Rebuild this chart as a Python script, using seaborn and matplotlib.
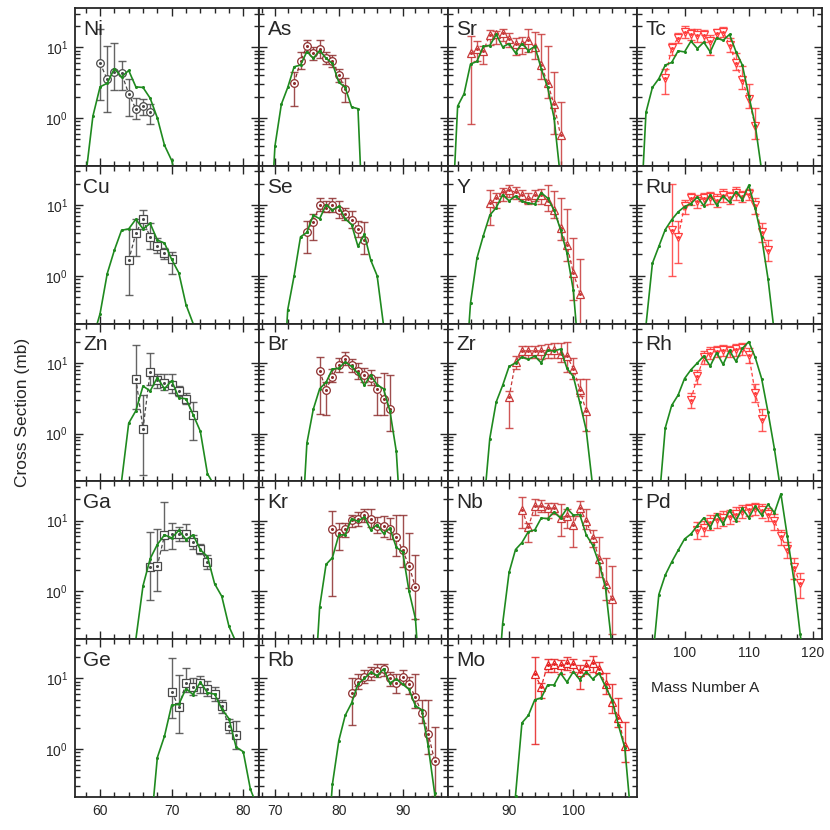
import numpy as np
import pandas as pd
import matplotlib
matplotlib.use("Agg")
import matplotlib.pyplot as plt
import seaborn as sns
from matplotlib.ticker import MultipleLocator, LogLocator, NullFormatter

# ---- data: model curve (green) and measured cross sections (mb) ----
# each *_model list starts at mass number *_m0, each *_exp list at *_e0
ni_m0 = 58
ni_model = [0.15, 1.06, 2.75, 3.1, 5.0, 3.8, 4.7, 2.75, 2.7, 1.9, 1.0, 0.41, 0.25, 0.1]
ni_e0 = 60
ni_exp = [6.0, 3.5, 4.5, 4.3, 2.2, 1.34, 1.46, 1.2]
ni_hi = [18, 10.6, 11.5, 6.3, 3.6, 1.9, 1.86, 1.55]
ni_lo = [1.8, 1.2, 2.5, 2.5, 1.05, 0.95, 1.1, 0.83]

cu_m0 = 59
cu_model = [0.13, 0.29, 1.07, 2.3, 4.4, 4.6, 6.3, 4.6, 5.5, 3.2, 2.9, 1.7, 1.1, 0.39, 0.21, 0.12]
cu_e0 = 64
cu_exp = [1.65, 4.0, 6.3, 3.5, 2.66, 2.1, 1.7]
cu_hi = [4.6, 6.3, 8.5, 5.5, 3.4, 2.5, 2.2]
cu_lo = [0.54, 1.9, 4.6, 2.4, 2.1, 1.7, 1.05]

zn_m0 = 62
zn_model = [0.1, 0.21, 1.4, 2.1, 4.7, 4.0, 6.2, 4.3, 5.6, 3.2, 3.1, 1.85, 1.08, 0.27, 0.18, 0.1]
zn_e0 = 65
zn_exp = [6.0, 1.17, 7.5, 5.8, 5.2, 4.9, 4.0, 3.1, 1.8]
zn_hi = [18, 3.5, 13.8, 6.9, 6.9, 6.9, 4.7, 3.8, 2.8]
zn_lo = [2.2, 0.26, 4.9, 4.4, 4.2, 3.7, 3.4, 2.6, 0.8]

ga_m0 = 64
ga_model = [0.12, 0.21, 1.2, 2.9, 4.6, 6.3, 5.7, 7.3, 5.4, 6.3, 3.9, 3.1, 1.28, 0.85, 0.32, 0.19, 0.1]
ga_e0 = 67
ga_exp = [2.2, 2.3, 6.2, 6.4, 6.4, 6.5, 5.0, 4.0, 2.6]
ga_hi = [6.9, 7.6, 18.5, 9.3, 8.2, 9.1, 6.3, 4.7, 3.3]
ga_lo = [0.76, 1.02, 3.8, 4.0, 5.1, 5.1, 4.0, 3.4, 2.06]

ge_m0 = 67
ge_model = [0.06, 0.76, 1.53, 4.2, 4.3, 7.2, 5.9, 8.9, 6.3, 6.0, 3.7, 2.7, 1.07, 0.92, 0.27, 0.15]
ge_e0 = 70
ge_exp = [6.5, 3.95, 8.6, 7.7, 8.5, 7.1, 6.0, 4.1, 2.1, 1.6]
ge_hi = [19.5, 11.1, 14.3, 10, 10.8, 9.3, 7.7, 4.9, 2.7, 2.5]
ge_lo = [2.77, 1.7, 6.5, 5.9, 6.2, 5.7, 4.8, 3.3, 1.67, 1.0]

as_m0 = 69
as_model = [0.01, 0.4, 1.56, 2.7, 5.3, 5.6, 8.7, 7.0, 9.0, 7.0, 5.9, 3.2, 2.7, 1.43, 1.35, 0.01]
as_e0 = 73
as_exp = [3.1, 6.3, 10.3, 8.3, 9.5, 7.0, 6.5, 4.0, 2.6]
as_hi = [4.5, 8.5, 12.6, 10, 12.6, 8.5, 7.8, 4.9, 3.7]
as_lo = [1.47, 4.9, 8.5, 6.6, 7.0, 5.8, 5.3, 3.2, 1.7]

se_m0 = 71
se_model = [0.01, 0.33, 1.0, 3.55, 4.1, 7.2, 6.4, 10.1, 8.5, 9.6, 6.4, 5.3, 2.6, 3.85, 1.66, 1.0, 0.2, 0.02]
se_e0 = 75
se_exp = [4.2, 5.7, 10.0, 9.0, 10.0, 8.4, 7.4, 6.1, 4.6, 3.2]
se_hi = [5.9, 7.5, 12.7, 11.3, 12.7, 11.3, 9.2, 8.2, 5.9, 5.7]
se_lo = [2.1, 3.2, 8.3, 8.0, 8.1, 6.6, 6.2, 4.7, 3.5, 2.03]

br_m0 = 74
br_model = [0.02, 0.73, 2.2, 4.3, 5.3, 8.2, 8.4, 10.3, 8.9, 7.1, 4.8, 6.7, 4.9, 4.3, 2.1, 0.56, 0.02]
br_e0 = 77
br_exp = [7.7, 4.2, 6.4, 9.4, 11.2, 9.2, 7.7, 6.7, 6.2, 4.3, 3.1, 2.25]
br_hi = [12.3, 5.3, 8.1, 11.8, 14.3, 11.4, 10, 8.4, 8.0, 6.4, 7.1, 6.7]
br_lo = [1.9, 1.8, 5.3, 7.5, 9.2, 7.5, 6.0, 5.4, 4.9, 1.8, 1.85, 1.1]

kr_m0 = 76
kr_model = [0.02, 0.6, 2.4, 3.0, 6.3, 6.3, 10.7, 9.8, 11.3, 7.4, 8.8, 6.6, 7.8, 4.2, 3.6, 1.0, 0.41, 0.02]
kr_e0 = 79
kr_exp = [7.6, 6.8, 7.6, 10.1, 10.7, 11.9, 10.7, 8.5, 8.5, 7.6, 5.9, 3.8, 2.3, 1.14]
kr_hi = [13.7, 9.2, 9.4, 12.2, 13.2, 14.5, 14.8, 11.3, 11.8, 11.0, 11.9, 11.9, 6.8, 3.3]
kr_lo = [0.87, 3.9, 5.9, 8.1, 8.3, 9.6, 8.1, 6.8, 5.9, 5.5, 3.2, 2.2, 1.1, 0.4]

rb_m0 = 78
rb_model = [0.02, 0.32, 1.32, 3.0, 4.5, 8.3, 10, 12.2, 11, 13.6, 8.6, 9.8, 8.3, 7.0, 4.1, 3.6, 1.1, 0.24, 0.02]
rb_e0 = 82
rb_exp = [6.3, 8.9, 10.6, 11.9, 12.9, 13.6, 10, 8.6, 10.6, 8.3, 5.4, 3.2, 1.65, 0.69]
rb_hi = [10, 11.5, 13.2, 14.4, 15.8, 16.1, 12.2, 11.5, 13.3, 10.6, 11.5, 5.0, 5.0, 2.06]
rb_lo = [2.2, 7.0, 8.6, 9.6, 10.6, 10.9, 7.8, 6.3, 8.3, 6.1, 3.8, 2.35, 0.85, 0.22]

sr_m0 = 81
sr_model = [0.02, 1.47, 2.2, 5.8, 6.3, 10.3, 10.6, 15.2, 10.1, 11.3, 8.3, 11.3, 9.0, 10.3, 5.0, 2.7, 1.0, 0.14]
sr_e0 = 84
sr_exp = [8.3, 9.6, 8.9, 14.9, 15.6, 16.1, 12.9, 11.3, 11.1, 12.6, 10, 5.6, 3.1, 1.56, 0.57]
sr_hi = [14.5, 12.2, 10.6, 17.4, 17, 18.4, 16.1, 13.7, 14.1, 18.4, 16.5, 15.3, 10.3, 4.5, 1.7]
sr_lo = [0.83, 6.3, 5.8, 10.9, 11.1, 12.2, 10, 7.8, 8, 8.7, 6.8, 3.6, 1.9, 0.6, 0.2]

y_m0 = 83
y_model = [0.02, 0.41, 1.77, 3.7, 7.2, 9.2, 14.0, 11.5, 13.4, 11.3, 10.7, 10.3, 15.0, 12.5, 8.5, 4.5, 2.1, 0.62, 0.05]
y_e0 = 87
y_exp = [10.7, 12.7, 15.3, 16.2, 15.3, 13.7, 12.2, 13.7, 13.7, 11.6, 8.5, 4.7, 2.7, 1.1, 0.56]
y_hi = [16.2, 14.8, 17.2, 19.1, 18.1, 16.2, 14.8, 16.2, 16.7, 19.1, 15.6, 12.5, 8.9, 3.4, 1.7]
y_lo = [5.3, 9.2, 11.6, 13.2, 12.2, 11.6, 10.3, 11.3, 10.3, 8.3, 6.6, 3.2, 1.6, 0.45, 0.2]

zr_m0 = 86
zr_model = [0.08, 0.85, 2.8, 4.8, 8.9, 10, 12.1, 11.2, 12.5, 10, 15.1, 14.8, 15.7, 8.4, 6.4, 2.75, 1.12, 0.18, 0.02]
zr_e0 = 90
zr_exp = [3.25, 10.3, 14.8, 14.8, 14.8, 14.8, 15.1, 15.1, 13.5, 12.5, 8.3, 4.2, 2.07]
zr_hi = [4.06, 12.5, 17.1, 17.5, 17.5, 18.1, 18.6, 19, 19.4, 20, 11.8, 6.0, 6.0]
zr_lo = [1.18, 8.3, 12.1, 11.8, 11.6, 11.2, 11.8, 11.6, 10.3, 7.5, 6.0, 3.4, 1.1]

nb_m0 = 88
nb_model = [0.02, 0.35, 1.85, 3.9, 4.9, 7.0, 7.4, 10.9, 10.7, 13.2, 10.9, 14.9, 12.0, 12.2, 6.3, 4.5, 2.5, 1.12, 0.17]
nb_e0 = 92
nb_exp = [14.4, 8.1, 16.1, 16.1, 15.2, 14.9, 10.9, 11.8, 8.8, 14.9, 10, 5.7, 2.9, 1.25, 0.78]
nb_hi = [21.3, 9.3, 20.2, 19.7, 18, 18, 17.1, 14.5, 11.6, 19, 14.7, 7.4, 5.9, 3.0, 2.3]
nb_lo = [7.8, 5.0, 12.2, 13.2, 10.9, 12.6, 6.1, 7.8, 4.2, 11.6, 7.6, 4.2, 1.6, 0.76, 0.25]

mo_m0 = 90
mo_model = [0.02, 0.22, 2.35, 3.0, 5.0, 5.3, 8.1, 8.1, 11.9, 8.9, 12.5, 9.6, 12.5, 9.8, 11.9, 7.7, 5.0, 2.2, 1.05, 0.1]
mo_e0 = 94
mo_exp = [11.5, 7.6, 15.6, 16.1, 15.3, 16.5, 15.8, 12.5, 14.8, 16.5, 13.6, 8.3, 4.7, 2.8, 1.1]
mo_hi = [20.1, 8.7, 19.1, 19.1, 18, 20.1, 18.6, 15.3, 18, 20.5, 17, 12, 8.3, 5.3, 2.4]
mo_lo = [1.18, 5.3, 12.5, 12.2, 11.5, 13.2, 12.5, 7.0, 11.5, 12.2, 11.5, 6.0, 3.3, 2.06, 0.66]

tc_m0 = 93
tc_model = [0.02, 1.2, 2.7, 3.6, 5.6, 6.1, 8.9, 8.6, 12.2, 9.6, 11.8, 8.6, 13.6, 12.5, 15.2, 8.7, 5.6, 2.06, 0.8, 0.18]
tc_e0 = 97
tc_exp = [3.7, 9.8, 13.6, 16.5, 15.2, 14.7, 14.7, 12.2, 16.1, 16.7, 10.9, 5.9, 3.4, 1.84, 0.76]
tc_hi = [4.9, 11.6, 16.1, 20, 18, 18, 17.6, 14.9, 18.4, 19.5, 13.6, 8.3, 5.4, 3.0, 1.4]
tc_lo = [2.2, 7.8, 11.6, 13.6, 12.5, 11.8, 11.8, 7.8, 13.6, 13.9, 8.7, 4.7, 2.6, 1.4, 0.51]

ru_m0 = 94
ru_model = [0.2, 1.5, 2.6, 4.5, 6.2, 8.0, 9.5, 10.5, 13.0, 9.8, 14.0, 10.0, 13.5, 11.0, 15.5, 12.0, 19.0, 9.0, 3.5, 0.9, 0.15]
ru_e0 = 98
ru_exp = [4.5, 3.5, 9.8, 12.5, 11.5, 12.5, 13.0, 12.0, 14.0, 13.0, 15.0, 13.5, 14.5, 10.0, 4.2, 2.3]
ru_hi = [20.0, 6.0, 12.0, 15.0, 14.0, 15.0, 15.5, 14.5, 17.0, 15.5, 18.0, 16.0, 17.0, 12.5, 5.5, 3.2]
ru_lo = [1.0, 1.5, 7.5, 10.0, 9.0, 10.0, 10.5, 9.5, 11.0, 10.5, 12.0, 11.0, 12.0, 7.5, 3.0, 1.6]

rh_m0 = 96
rh_model = [0.1, 1.2, 2.5, 3.5, 6.0, 8.0, 10.0, 12.5, 9.0, 14.0, 9.5, 15.0, 10.5, 16.0, 20.0, 12.0, 6.0, 2.0, 0.6, 0.15]
rh_e0 = 101
rh_exp = [3.0, 6.5, 12.0, 14.0, 14.5, 15.0, 14.5, 15.5, 16.0, 13.0, 3.8, 1.6]
rh_hi = [3.8, 8.0, 14.5, 17.0, 17.5, 18.0, 17.5, 18.5, 19.0, 16.0, 5.0, 2.2]
rh_lo = [2.3, 5.0, 9.5, 11.5, 12.0, 12.5, 12.0, 12.5, 13.0, 10.0, 2.8, 1.1]

pd_m0 = 95
pd_model = [0.1, 0.9, 1.7, 2.6, 3.8, 5.5, 6.5, 8.5, 11.0, 8.0, 12.5, 9.0, 14.0, 10.0, 15.0, 11.0, 16.0, 12.0, 17.0, 13.0, 24.0, 6.0, 1.5, 0.25, 0.05]
pd_e0 = 102
pd_exp = [7.5, 8.0, 9.5, 10.5, 11.0, 11.5, 12.5, 13.5, 14.5, 15.0, 14.0, 12.5, 10.0, 6.0, 4.0, 2.2, 1.3]
pd_hi = [9.5, 10.0, 12.0, 13.0, 13.5, 14.0, 15.5, 16.5, 17.5, 18.0, 17.0, 15.0, 12.5, 7.5, 5.0, 3.0, 1.8]
pd_lo = [5.5, 6.0, 7.5, 8.0, 8.5, 9.0, 10.0, 11.0, 11.5, 12.0, 11.0, 10.0, 7.5, 4.5, 3.0, 1.5, 0.8]

GREEN = '#1f8a1f'
GREY = '#4a4a4a'
BROWN = '#8e2f2f'
RED3 = '#c83a3a'
RED_MO = '#e62222'
RED4 = '#ff3c3c'

panels = [
    ("Ni", 0, 0, ni_m0, ni_model, ni_e0, ni_exp, ni_lo, ni_hi, 'o', GREY),
    ("Cu", 1, 0, cu_m0, cu_model, cu_e0, cu_exp, cu_lo, cu_hi, 's', GREY),
    ("Zn", 2, 0, zn_m0, zn_model, zn_e0, zn_exp, zn_lo, zn_hi, 's', GREY),
    ("Ga", 3, 0, ga_m0, ga_model, ga_e0, ga_exp, ga_lo, ga_hi, 's', GREY),
    ("Ge", 4, 0, ge_m0, ge_model, ge_e0, ge_exp, ge_lo, ge_hi, 's', GREY),
    ("As", 0, 1, as_m0, as_model, as_e0, as_exp, as_lo, as_hi, 'o', BROWN),
    ("Se", 1, 1, se_m0, se_model, se_e0, se_exp, se_lo, se_hi, 'o', BROWN),
    ("Br", 2, 1, br_m0, br_model, br_e0, br_exp, br_lo, br_hi, 'o', BROWN),
    ("Kr", 3, 1, kr_m0, kr_model, kr_e0, kr_exp, kr_lo, kr_hi, 'o', BROWN),
    ("Rb", 4, 1, rb_m0, rb_model, rb_e0, rb_exp, rb_lo, rb_hi, 'o', BROWN),
    ("Sr", 0, 2, sr_m0, sr_model, sr_e0, sr_exp, sr_lo, sr_hi, '^', RED3),
    ("Y", 1, 2, y_m0, y_model, y_e0, y_exp, y_lo, y_hi, '^', RED3),
    ("Zr", 2, 2, zr_m0, zr_model, zr_e0, zr_exp, zr_lo, zr_hi, '^', RED3),
    ("Nb", 3, 2, nb_m0, nb_model, nb_e0, nb_exp, nb_lo, nb_hi, '^', RED3),
    ("Mo", 4, 2, mo_m0, mo_model, mo_e0, mo_exp, mo_lo, mo_hi, '^', RED_MO),
    ("Tc", 0, 3, tc_m0, tc_model, tc_e0, tc_exp, tc_lo, tc_hi, 'v', RED4),
    ("Ru", 1, 3, ru_m0, ru_model, ru_e0, ru_exp, ru_lo, ru_hi, 'v', RED4),
    ("Rh", 2, 3, rh_m0, rh_model, rh_e0, rh_exp, rh_lo, rh_hi, 'v', RED4),
    ("Pd", 3, 3, pd_m0, pd_model, pd_e0, pd_exp, pd_lo, pd_hi, 'v', RED4),
]

col_xlim = [(56.5, 82.2), (67.5, 97.1), (80.5, 109.9), (92.6, 121.4)]
col_minor = [2, 2, 2, 2.5]

sns.set_style("ticks")
plt.rcParams['font.family'] = ['Liberation Sans', 'DejaVu Sans']
plt.rcParams['mathtext.fontset'] = 'custom'
plt.rcParams['mathtext.rm'] = 'Liberation Sans'
plt.rcParams['mathtext.it'] = 'Liberation Sans:italic'

fig = plt.figure(figsize=(8.3, 8.3), dpi=100)
gs = fig.add_gridspec(5, 4, left=75/830, right=822/830, top=1-8/830, bottom=1-797/830,
                      wspace=0, hspace=0, width_ratios=[184, 189, 189, 185])
axes = [[fig.add_subplot(gs[r, c]) for c in range(4)] for r in range(5)]

for name, r, c, m0, model, e0, exp, lo, hi, mk, colr in panels:
    ax = axes[r][c]
    dm = pd.DataFrame({'A': m0 + np.arange(len(model)), 'sigma': model})
    de = pd.DataFrame({'A': e0 + np.arange(len(exp)), 'sigma': exp, 'lo': lo, 'hi': hi})

    # error bars, then the dashed line through the measured points
    ax.errorbar(de['A'], de['sigma'], yerr=[de['sigma'] - de['lo'], de['hi'] - de['sigma']],
                fmt='none', ecolor=colr, elinewidth=1.0, capsize=3, capthick=1.0, alpha=0.85, zorder=2)
    sns.lineplot(data=de, x='A', y='sigma', ax=ax, color=colr, lw=0.9, linestyle=(0, (3, 2)),
                 marker=mk, markersize=5.5, markerfacecolor='white', markeredgecolor=colr,
                 markeredgewidth=0.9, zorder=3)
    ax.plot(de['A'], de['sigma'], 'o', color=colr, ms=1.2, zorder=3.5)
    # model curve on top
    sns.lineplot(data=dm, x='A', y='sigma', ax=ax, color=GREEN, lw=1.2, marker='o',
                 markersize=2.2, markeredgewidth=0, zorder=4)
    ax.text(0.045, 0.925, name, transform=ax.transAxes, fontsize=15, va='top', ha='left')

for r in range(5):
    for c in range(4):
        ax = axes[r][c]
        if r == 4 and c == 3:
            ax.axis('off')
            continue
        ax.set_yscale('log')
        ax.set_ylim(0.21, 36)
        ax.set_xlim(col_xlim[c])
        ax.xaxis.set_major_locator(MultipleLocator(10))
        ax.xaxis.set_minor_locator(MultipleLocator(col_minor[c]))
        ax.yaxis.set_major_locator(LogLocator(base=10))
        ax.yaxis.set_minor_locator(LogLocator(base=10, subs=np.arange(2, 10)))
        ax.yaxis.set_minor_formatter(NullFormatter())
        ax.tick_params(which='both', direction='in', top=True, right=True, width=1.0,
                       labelsize=10)
        ax.tick_params(which='major', length=6, pad=5)
        ax.tick_params(which='minor', length=3.5)
        show_x = (r == 4) or (r == 3 and c == 3)
        ax.tick_params(labelbottom=show_x, labelleft=(c == 0))
        ax.set_xlabel('')
        ax.set_ylabel('')
        for sp in ax.spines.values():
            sp.set_linewidth(1.3)

fig.text(0.027, 0.503, 'Cross Section (mb)', rotation=90, va='center', ha='center', fontsize=12.5)
fig.text(0.849, 0.171, 'Mass Number A', va='center', ha='center', fontsize=11)

fig.savefig('out.png', dpi=100)
